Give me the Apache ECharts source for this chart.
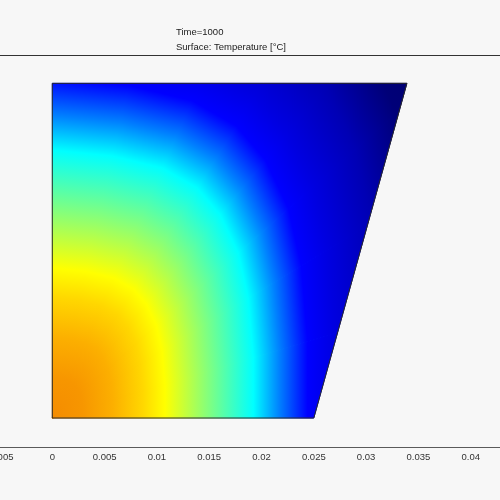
<!DOCTYPE html>
<html><head><meta charset="utf-8">
<script src="https://cdn.jsdelivr.net/npm/echarts@6/dist/echarts.min.js"></script>
<style>html,body{margin:0;padding:0;background:#f7f7f7}#c{width:500px;height:500px}</style>
</head><body><div id="c"></div>
<script>
// ---- data ----
const titleLines = ['Time=1000', 'Surface: Temperature [°C]'];
// domain outline (m)
const domainX = [0, 0.025, 0.0339, 0];
const domainY = [0, 0, 0.032, 0.032];
// reference isotherm (cyan level), used as unit contour rho = 1 (m)
const isoX = [0.01922, 0.01922, 0.01874, 0.01778, 0.01606, 0.01386, 0.01052, 0.00574, 0];
const isoY = [0, 0.00574, 0.01147, 0.01577, 0.01941, 0.02199, 0.02390, 0.02505, 0.02562];
// colour levels along relative contour distance rho
const levelRho = [0, 0.15, 0.30, 0.45, 0.56, 0.78, 1.00, 1.13, 1.27, 1.40, 1.63, 1.85, 2.0];
const levelColor = ['#f58c00', '#f79600', '#fcaf00', '#ffd700', '#ffff00', '#80ff80', '#00ffff', '#0080ff', '#0000ff', '#0000e1', '#0000b4', '#000078', '#000070'];
const RHO_MAX = 2.0;

const stops = levelRho.map((r, i) => ({ offset: r / RHO_MAX, color: levelColor[i] }));

function clipPoly(subject, clipper) {
  let area = 0;
  for (let i = 0; i < clipper.length; i++) {
    const a = clipper[i], b = clipper[(i + 1) % clipper.length];
    area += a[0] * b[1] - b[0] * a[1];
  }
  const s = area > 0 ? 1 : -1;
  let out = subject;
  for (let i = 0; i < clipper.length && out.length; i++) {
    const A = clipper[i], B = clipper[(i + 1) % clipper.length];
    const ex = B[0] - A[0], ey = B[1] - A[1];
    const inside = p => s * (ex * (p[1] - A[1]) - ey * (p[0] - A[0])) >= -1e-6;
    const inter = (P, Q) => {
      const dx = Q[0] - P[0], dy = Q[1] - P[1];
      const den = dx * ey - dy * ex;
      const t = ((A[0] - P[0]) * ey - (A[1] - P[1]) * ex) / den;
      return [P[0] + t * dx, P[1] + t * dy];
    };
    const input = out; out = [];
    for (let j = 0; j < input.length; j++) {
      const P = input[j], Q = input[(j + 1) % input.length];
      const pi = inside(P), qi = inside(Q);
      if (pi) { out.push(P); if (!qi) out.push(inter(P, Q)); }
      else if (qi) { out.push(inter(P, Q)); }
    }
  }
  return out;
}

function renderField(params, api) {
  const O = api.coord([0, 0]);
  const dom = domainX.map((x, i) => api.coord([x, domainY[i]]));
  const iso = isoX.map((x, i) => api.coord([x, isoY[i]]));
  const children = [];
  // base layer
  children.push({
    type: 'polygon', shape: { points: dom },
    style: { fill: { type: 'radial', x: O[0], y: O[1], r: (O[1] - iso[iso.length - 1][1]) * RHO_MAX, colorStops: stops, global: true } },
    silent: true
  });
  for (let j = 0; j < iso.length - 1; j++) {
    const a = [iso[j][0] - O[0], O[1] - iso[j][1]];
    const b = [iso[j + 1][0] - O[0], O[1] - iso[j + 1][1]];
    const det = a[0] * b[1] - a[1] * b[0];
    const nx = (b[1] - a[1]) / det, ny = (a[0] - b[0]) / det;
    const n2 = nx * nx + ny * ny;
    const fx = nx / n2, fy = ny / n2;
    const grad = { type: 'linear', x: O[0], y: O[1], x2: O[0] + RHO_MAX * fx, y2: O[1] - RHO_MAX * fy, colorStops: stops, global: true };
    const tri = [O, [O[0] + 5 * a[0], O[1] - 5 * a[1]], [O[0] + 5 * b[0], O[1] - 5 * b[1]]];
    const pts = clipPoly(tri, dom);
    if (pts.length < 3) continue;
    children.push({ type: 'polygon', shape: { points: pts }, style: { fill: grad, stroke: grad, lineWidth: 1 }, silent: true });
  }
  children.push({ type: 'polygon', shape: { points: dom }, style: { fill: null, stroke: '#2a2a2a', lineWidth: 1, lineJoin: 'round' }, silent: true });
  return { type: 'group', children };
}

const chart = echarts.init(document.getElementById('c'), null, { renderer: 'canvas' });
chart.setOption({
  backgroundColor: '#f7f7f7',
  animation: false,
  grid: { left: 0, right: 0, top: 55, bottom: 53, containLabel: false, outerBoundsMode: 'none' },
  xAxis: [{
    type: 'value', min: -0.005, max: 0.0428, interval: 0.005, position: 'bottom',
    axisLine: { show: true, onZero: false, lineStyle: { color: '#5a5a5a', width: 1 } },
    axisTick: { show: false }, splitLine: { show: false },
    axisLabel: { fontSize: 9.5, color: '#333', margin: 5, fontFamily: 'Liberation Sans', hideOverlap: false, showMinLabel: true, showMaxLabel: false }
  }, {
    type: 'value', min: -0.005, max: 0.0428, interval: 0.005, position: 'top',
    axisLine: { show: true, onZero: false, lineStyle: { color: '#333', width: 1 } },
    axisTick: { show: false }, splitLine: { show: false }, axisLabel: { show: false }
  }],
  yAxis: { type: 'value', min: -0.00277, max: 0.03471, show: false, splitLine: { show: false } },
  graphic: titleLines.map((t, i) => ({
    type: 'text', left: 176, top: 27.5 + i * 14.5,
    style: { text: t, font: '9.5px "Liberation Sans"', fill: '#1a1a1a' }
  })),
  series: [{
    type: 'custom', xAxisIndex: 0, yAxisIndex: 0, clip: false,
    renderItem: renderField, data: [[0, 0]]
  }]
});
</script></body></html>
